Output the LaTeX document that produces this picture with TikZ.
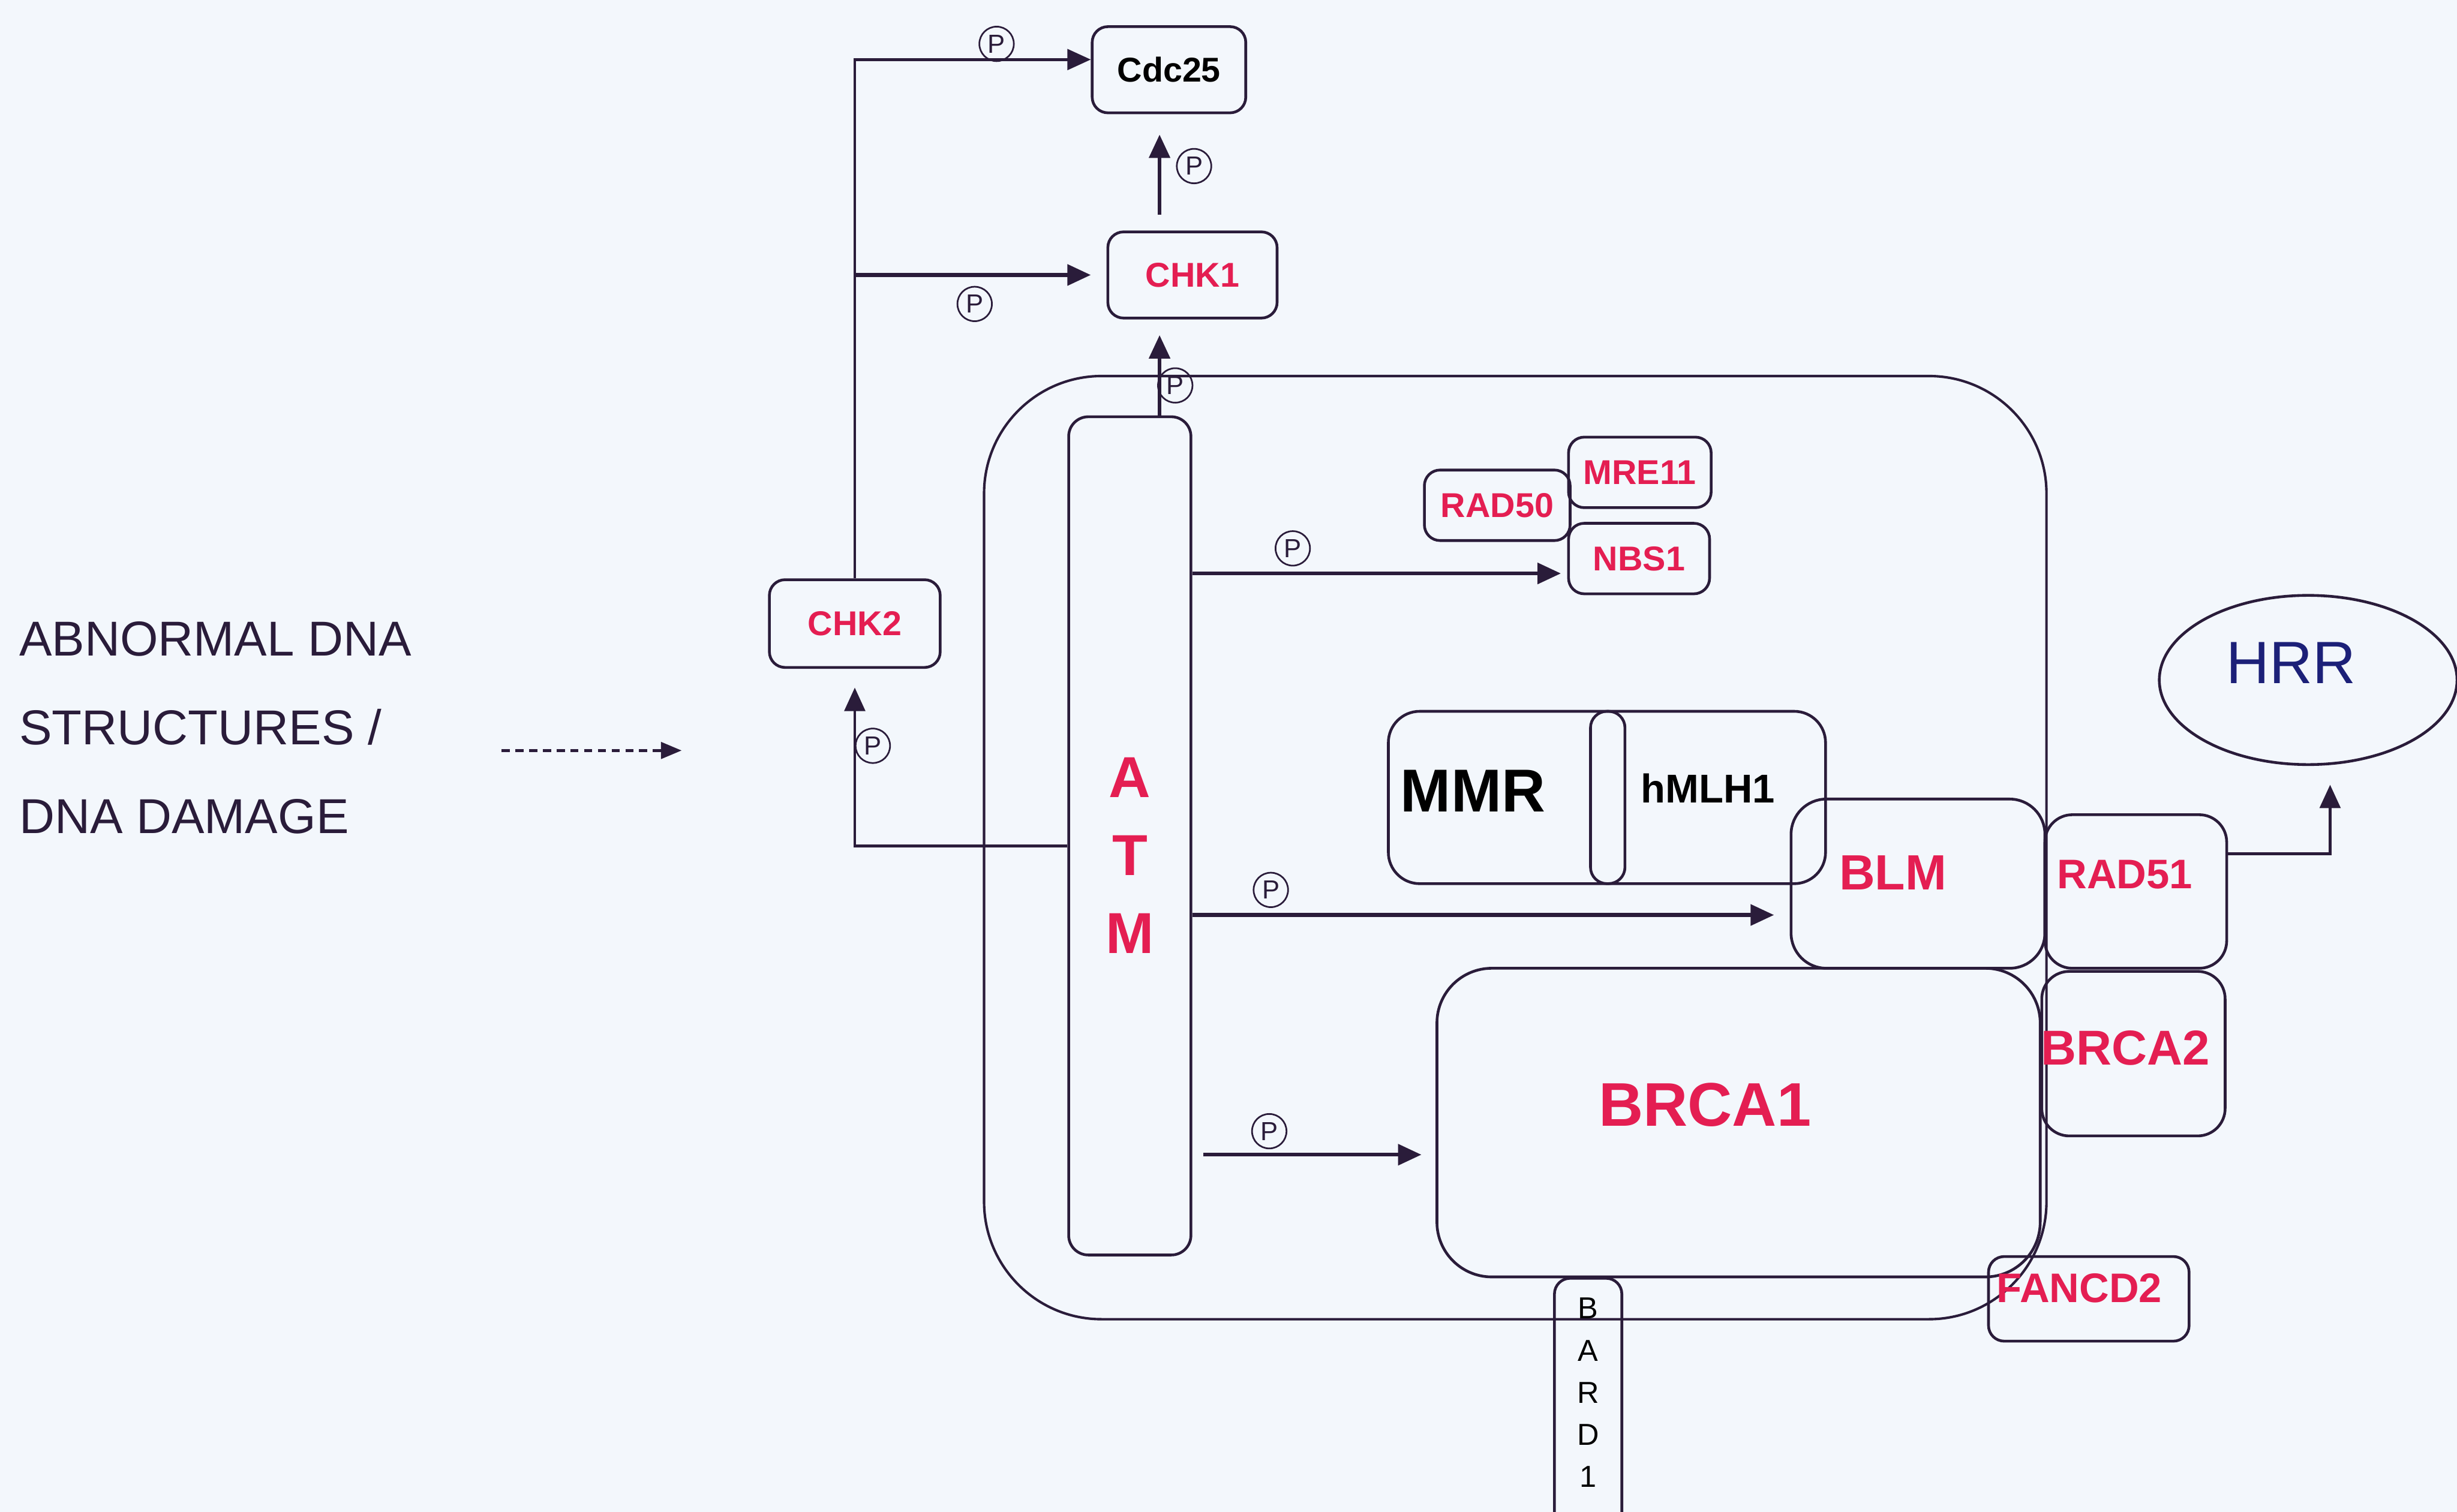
\documentclass[tikz,border=0pt]{standalone}
\usepackage{fontspec}
\setmainfont{Liberation Sans}
\usetikzlibrary{arrows.meta, shapes.geometric}

\definecolor{bg}{RGB}{243,247,252}
\definecolor{prot}{RGB}{228,30,82}
\definecolor{ink}{RGB}{42,28,58}
\definecolor{hrrblue}{RGB}{28,32,120}

\begin{document}
\begin{tikzpicture}[x=2cm, y=-2cm,
    box/.style={draw=ink, line width=1pt, rounded corners=0.2cm, inner sep=0pt, text=prot, font=\bfseries\fontsize{12.5}{14}\selectfont},
    lbl/.style={text=prot, font=\bfseries\fontsize{#1}{#1}\selectfont},
    arr/.style={draw=ink, line width=1.4pt, -{Triangle[length=8.5pt,width=7.5pt]}},
    pmark/.style={circle, draw=ink, line width=0.6pt, minimum size=0.44cm, inner sep=0pt, text=ink, font=\fontsize{9.5}{9.5}\selectfont}]
    \fill[bg] (0,0) rectangle (15.68,9.65);
    \useasboundingbox (0,0) rectangle (15.68,9.65);

    \node[anchor=west, align=left, inner sep=0pt, text=ink, font=\fontsize{17.8}{32.3}\selectfont] (damage) at (0.12,4.645) {ABNORMAL DNA\\STRUCTURES /\\DNA DAMAGE};
    \coordinate (dashA) at (3.20,4.79);
    \coordinate (dashB) at (4.35,4.79);
    \draw[draw=ink, line width=1pt, dash pattern=on 3pt off 2pt, -{Triangle[length=7.5pt,width=6pt]}] (dashA) -- (dashB);

    % checkpoint kinases
    \node[box, text=black, minimum width=1.96cm, minimum height=1.1cm] (cdc25) at (7.46,0.445) {Cdc25};
    \node[box, minimum width=2.16cm, minimum height=1.1cm] (chk1) at (7.61,1.755) {CHK1};
    \node[box, minimum width=2.18cm, minimum height=1.12cm] (chk2) at (5.455,3.98) {CHK2};

    % nucleus and its complexes
    \node[draw=ink, line width=0.9pt, rounded corners=1.5cm, minimum width=13.56cm, minimum height=12.04cm] (nucleus) at (9.67,5.41) {};
    \node[box, rounded corners=0.25cm, minimum width=1.56cm, minimum height=10.7cm,
        label={[yshift=-0.25cm, align=center, lbl=21, font=\bfseries\fontsize{21}{28.4}\selectfont]center:A\\T\\M}] (atm) at (7.21,5.335) {};
    \node[box, minimum width=1.86cm, minimum height=0.9cm] (rad50) at (9.555,3.225) {RAD50};
    \node[box, minimum width=1.82cm, minimum height=0.9cm] (mre11) at (10.465,3.015) {MRE11};
    \node[box, minimum width=1.8cm, minimum height=0.9cm] (nbs1) at (10.46,3.565) {NBS1};

    \node[box, rounded corners=0.4cm, minimum width=5.58cm, minimum height=2.2cm] (mmr) at (10.255,5.09) {};
    \node[box, rounded corners=0.21cm, minimum width=0.44cm, minimum height=2.2cm] (joint) at (10.26,5.09) {};
    \node[lbl=22, text=black] (mmrlbl) at (9.40,5.05) {MMR};
    \node[lbl=14.6, text=black] (hmlh1) at (10.90,5.03) {hMLH1};

    \node[box, rounded corners=0.45cm, minimum width=3.24cm, minimum height=2.16cm,
        label={[xshift=-0.32cm, yshift=0.14cm, lbl=18]center:BLM}] (blm) at (12.24,5.64) {};
    \node[box, rounded corners=0.35cm, minimum width=2.32cm, minimum height=1.96cm,
        label={[xshift=-0.14cm, yshift=0.22cm, lbl=15]center:RAD51}] (rad51) at (13.63,5.69) {};
    \node[box, rounded corners=0.35cm, minimum width=2.34cm, minimum height=2.1cm,
        label={[xshift=-0.1cm, yshift=0.07cm, lbl=17.8]center:BRCA2}] (brca2) at (13.615,6.725) {};
    \node[box, rounded corners=0.7cm, minimum width=7.7cm, minimum height=3.94cm,
        label={[xshift=-0.43cm, yshift=0.23cm, lbl=22.4]center:BRCA1}] (brca1) at (11.095,7.165) {};
    \node[box, minimum width=2.56cm, minimum height=1.08cm,
        label={[xshift=-0.12cm, yshift=0.14cm, lbl=15]center:FANCD2}] (fancd2) at (13.33,8.29) {};
    \node[box, anchor=north, minimum width=0.86cm, minimum height=3.2cm,
        label={[yshift=0.14cm, align=center, text=black, font=\fontsize{11}{15.3}\selectfont]center:B\\A\\R\\D\\1}] (bard1) at (10.135,8.15) {};

    \node[ellipse, draw=ink, line width=1pt, inner sep=0pt, minimum width=3.8cm, minimum height=2.16cm,
        label={[xshift=-0.22cm, yshift=0.22cm, text=hrrblue, font=\fontsize{21.7}{22}\selectfont]center:HRR}] (hrr) at (14.73,4.34) {};

    % phosphorylation arrows
    \draw[arr, line width=1pt] (chk2.north) |- ([yshift=0.13cm]cdc25.west);
    \draw[arr, shorten >=0.2cm] (chk2.north |- chk1.west) -- (chk1.west);
    \draw[arr, shorten <=0.2cm, shorten >=0.26cm] ([xshift=-0.42cm]chk1.north) -- ([xshift=-0.42cm]chk1.north |- cdc25.south);
    \draw[arr, shorten >=0.2cm] ([xshift=0.38cm]atm.north) -- ([xshift=0.38cm]atm.north |- chk1.south);
    \draw[arr, line width=1pt, shorten >=0.24cm] ([yshift=-0.13cm]atm.west) -| (chk2.south);
    \draw[arr, shorten >=0.08cm] (atm.east |- 0,3.66) -- (nbs1.west |- 0,3.66);
    \draw[arr, shorten >=0.2cm] (atm.east |- 0,5.84) -- (blm.west |- 0,5.84);
    \draw[arr, shorten <=0.14cm, shorten >=0.18cm] (atm.east |- 0,7.37) -- (brca1.west |- 0,7.37);
    \draw[arr, line width=1.1pt, shorten >=0.24cm] ([yshift=0.48cm]rad51.east) -| ([xshift=0.28cm]hrr.south);

    \foreach \pos [count=\i] in {{6.36,0.28}, {7.62,1.06}, {6.22,1.94}, {7.50,2.46}, {8.25,3.50}, {5.57,4.76}, {8.11,5.68}, {8.10,7.22}}
        \node[pmark] (p\i) at (\pos) {P};
\end{tikzpicture}
\end{document}
